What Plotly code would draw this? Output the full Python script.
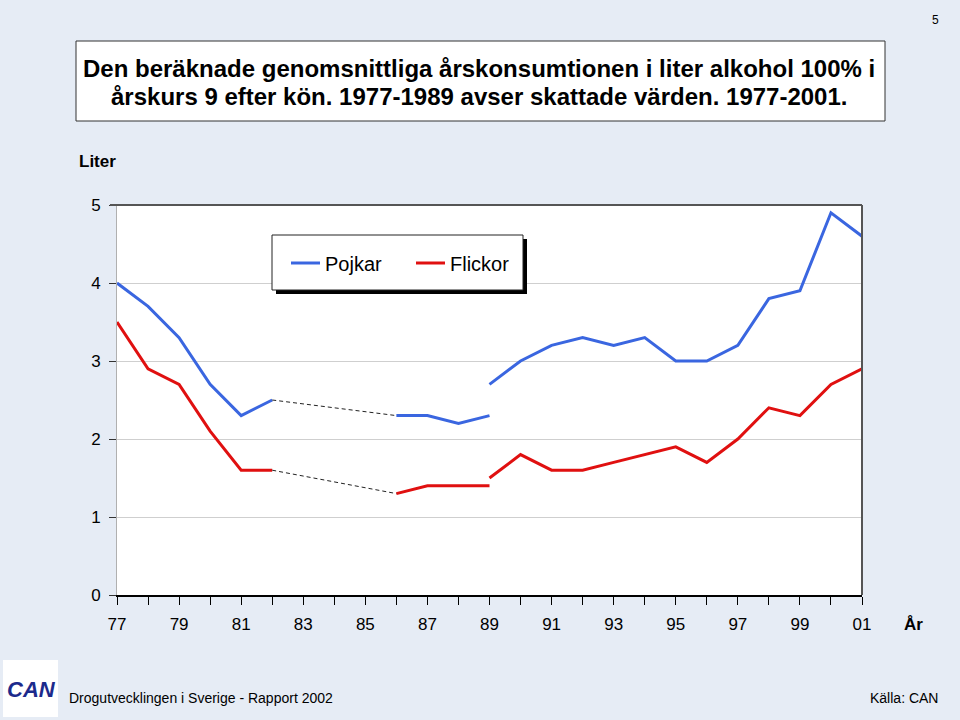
import plotly.graph_objects as go

# ---------------- data ----------------
years_a = [1977, 1978, 1979, 1980, 1981, 1982]
pojkar_a = [4.0, 3.7, 3.3, 2.7, 2.3, 2.5]
flickor_a = [3.5, 2.9, 2.7, 2.1, 1.6, 1.6]

years_b = [1986, 1987, 1988, 1989]
pojkar_b = [2.3, 2.3, 2.2, 2.3]
flickor_b = [1.3, 1.4, 1.4, 1.4]

years_c = [1989, 1990, 1991, 1992, 1993, 1994, 1995, 1996, 1997, 1998, 1999, 2000, 2001]
pojkar_c = [2.7, 3.0, 3.2, 3.3, 3.2, 3.3, 3.0, 3.0, 3.2, 3.8, 3.9, 4.9, 4.6]
flickor_c = [1.5, 1.8, 1.6, 1.6, 1.7, 1.8, 1.9, 1.7, 2.0, 2.4, 2.3, 2.7, 2.9]

tick_years = [1977, 1979, 1981, 1983, 1985, 1987, 1989, 1991, 1993, 1995, 1997, 1999, 2001]
tick_labels = ["77", "79", "81", "83", "85", "87", "89", "91", "93", "95", "97", "99", "01"]

series_names = ["Pojkar", "Flickor"]

title_line1 = "Den beräknade genomsnittliga årskonsumtionen i liter alkohol 100% i"
title_line2 = "årskurs 9 efter kön. 1977-1989 avser skattade värden. 1977-2001."

BLUE = "#3a66e0"
RED = "#e01010"
BG = "#e6ecf5"
FONT = "Liberation Sans, Arial, sans-serif"

# ---------------- geometry helpers (pixel -> paper) ----------------
PL, PR, PT, PB = 117, 862, 205, 595
W, H = PR - PL, PB - PT


def px(x):
    return (x - PL) / W


def py(y):
    return (PB - y) / H


fig = go.Figure()

for name, col, a, b, c in ((series_names[0], BLUE, pojkar_a, pojkar_b, pojkar_c),
                           (series_names[1], RED, flickor_a, flickor_b, flickor_c)):
    fig.add_trace(go.Scatter(x=years_a, y=a, mode="lines", name=name,
                             line=dict(color=col, width=3), showlegend=False))
    fig.add_trace(go.Scatter(x=years_b, y=b, mode="lines", name=name,
                             line=dict(color=col, width=3), showlegend=False))
    fig.add_trace(go.Scatter(x=years_c, y=c, mode="lines", name=name,
                             line=dict(color=col, width=3), showlegend=False))
    # dashed connector across the gap
    fig.add_trace(go.Scatter(x=[years_a[-1], years_b[0]], y=[a[-1], b[0]], mode="lines",
                             line=dict(color="#222222", width=1, dash="4px,3px"),
                             showlegend=False, hoverinfo="skip"))

shapes = [
    # plot frame top + right
    dict(type="line", xref="paper", yref="paper", x0=px(110), x1=1, y0=1, y1=1,
         line=dict(color="#555555", width=2), layer="above"),
    dict(type="line", xref="paper", yref="paper", x0=1, x1=1, y0=0, y1=1,
         line=dict(color="#555555", width=2), layer="above"),
    # title box
    dict(type="rect", xref="paper", yref="paper", x0=px(76), x1=px(885), y0=py(121), y1=py(41),
         fillcolor="white", line=dict(color="#333333", width=1)),
    # legend shadow + box
    dict(type="rect", xref="paper", yref="paper", x0=px(276), x1=px(527), y0=py(294), y1=py(239),
         fillcolor="black", line=dict(width=0), layer="above"),
    dict(type="rect", xref="paper", yref="paper", x0=px(272), x1=px(523), y0=py(290), y1=py(235),
         fillcolor="white", line=dict(color="#222222", width=1), layer="above"),
    # legend keys
    dict(type="line", xref="paper", yref="paper", x0=px(291), x1=px(320), y0=py(263), y1=py(263),
         line=dict(color=BLUE, width=3), layer="above"),
    dict(type="line", xref="paper", yref="paper", x0=px(416), x1=px(445), y0=py(263), y1=py(263),
         line=dict(color=RED, width=3), layer="above"),
    # logo background
    dict(type="rect", xref="paper", yref="paper", x0=px(3), x1=px(58), y0=py(717), y1=py(660),
         fillcolor="white", line=dict(width=0)),
]

annotations = [
    dict(text="<b>" + title_line1 + "</b>", x=px(479), y=py(69), xref="paper", yref="paper",
         showarrow=False, xanchor="center", yanchor="middle",
         font=dict(family=FONT, size=24, color="black")),
    dict(text="<b>" + title_line2 + "</b>", x=px(479), y=py(96), xref="paper", yref="paper",
         showarrow=False, xanchor="center", yanchor="middle",
         font=dict(family=FONT, size=24, color="black")),
    dict(text=series_names[0], x=px(323), y=py(264), xref="paper", yref="paper", showarrow=False,
         xanchor="left", yanchor="middle", font=dict(family=FONT, size=20, color="black")),
    dict(text=series_names[1], x=px(448), y=py(264), xref="paper", yref="paper", showarrow=False,
         xanchor="left", yanchor="middle", font=dict(family=FONT, size=20, color="black")),
    dict(text="<b>Liter</b>", x=px(77), y=py(161), xref="paper", yref="paper", showarrow=False,
         xanchor="left", yanchor="middle", font=dict(family=FONT, size=17, color="black")),
    dict(text="<b>År</b>", x=px(902), y=py(624), xref="paper", yref="paper", showarrow=False,
         xanchor="left", yanchor="middle", font=dict(family=FONT, size=17, color="black")),
    dict(text="Drogutvecklingen i Sverige - Rapport 2002", x=px(67), y=py(698), xref="paper",
         yref="paper", showarrow=False, xanchor="left", yanchor="middle",
         font=dict(family=FONT, size=14, color="black")),
    dict(text="Källa: CAN", x=px(940), y=py(698), xref="paper", yref="paper", showarrow=False,
         xanchor="right", yanchor="middle", font=dict(family=FONT, size=14, color="black")),
    dict(text="5", x=px(941), y=py(20), xref="paper", yref="paper", showarrow=False,
         xanchor="right", yanchor="middle", font=dict(family=FONT, size=12, color="black")),
    dict(text="<b><i>CAN</i></b>", x=px(31), y=py(689), xref="paper", yref="paper",
         showarrow=False, xanchor="center", yanchor="middle",
         font=dict(family=FONT, size=22, color="#1c2a8c")),
]

fig.update_layout(
    width=960, height=720,
    margin=dict(l=PL, r=960 - PR, t=PT, b=720 - PB, pad=0),
    paper_bgcolor=BG, plot_bgcolor="white",
    font=dict(family=FONT, size=17, color="black"),
    shapes=shapes, annotations=annotations,
    showlegend=False,
    xaxis=dict(range=[1977, 2001], tickmode="array", tickvals=tick_years, ticktext=tick_labels,
               ticks="outside", ticklen=8, tickcolor="black", tickwidth=1, ticklabelstandoff=5,
               minor=dict(dtick=1, tick0=1977, ticks="outside", ticklen=8, tickcolor="black",
                          showgrid=False),
               showline=True, linecolor="black", linewidth=1.5, showgrid=False, zeroline=False,
               tickfont=dict(size=17), fixedrange=True),
    yaxis=dict(range=[0, 5], dtick=1, tick0=0, ticks="outside", ticklen=7, tickcolor="#333333",
               ticklabelstandoff=5,
               showline=True, linecolor="#b0b0b0", linewidth=1, gridcolor="#cfcfcf",
               gridwidth=1, zeroline=False, tickfont=dict(size=17), fixedrange=True),
)

fig.write_html("out.html")
